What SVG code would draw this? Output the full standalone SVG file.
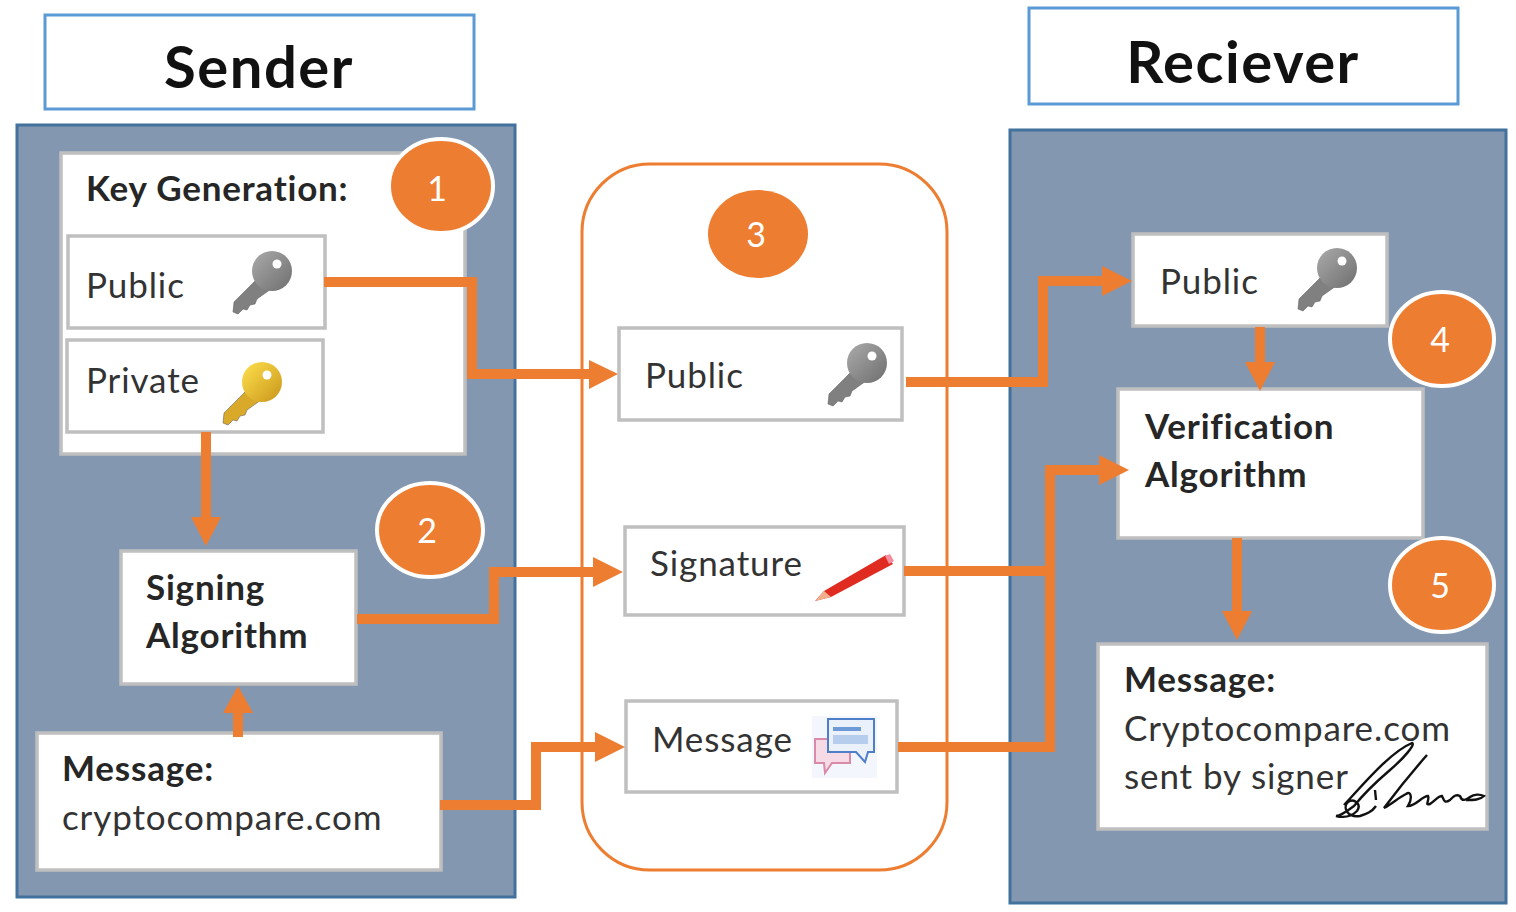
<svg xmlns="http://www.w3.org/2000/svg" width="1516" height="912" viewBox="0 0 1516 912">
<style>
text{font-family:Lato,"Open Sans","Liberation Sans",sans-serif;fill:#262626}
.h{font-size:58px;font-weight:700;fill:#111;text-anchor:middle;letter-spacing:1.5px}
.b{font-size:35px;font-weight:700;letter-spacing:.8px}
.t{font-size:35px;fill:#333;letter-spacing:.9px}
.head{fill:#fff;stroke:#5b9bd5;stroke-width:3}
.panel{fill:#8497b0;stroke:#41719c;stroke-width:3}
.box{fill:#fff;stroke:#bfbfbf;stroke-width:3.5}
.c{fill:#ed7d31;stroke:#fff;stroke-width:4}
.n{font-size:34px;fill:#fff;text-anchor:middle}
.w{fill:none;stroke:#ed7d31;stroke-width:10}
.a{fill:#ed7d31}
</style>
<defs>
<linearGradient id="gk" x1="0" y1="0" x2="1" y2="1"><stop offset="0" stop-color="#ababab"/><stop offset="1" stop-color="#6e6e6e"/></linearGradient>
<linearGradient id="yk" x1="0" y1="0" x2="1" y2="1"><stop offset="0" stop-color="#ffe14d"/><stop offset="1" stop-color="#c9951a"/></linearGradient>
<g id="key">
<path d="M-3 -4L-28 21L-29 31L-24 33L-19 28L-15 29L-12 24L-7 23L-5 18L9 8Z" fill="currentColor" stroke="#555" stroke-width="1" stroke-opacity=".5"/>
<circle cx="10" cy="-10" r="20"/>
<circle cx="15" cy="-17" r="4.5" fill="#fff"/>
</g>
</defs>

<g id="sender-header"><rect class="head" x="45" y="15" width="429" height="94"/><text class="h" x="259" y="88">Sender</text></g>
<g id="receiver-header"><rect class="head" x="1029" y="8" width="429" height="96"/><text class="h" x="1243" y="83">Reciever</text></g>

<g id="sender-panel"><rect class="panel" x="17" y="125" width="498" height="772"/></g>
<g id="receiver-panel"><rect class="panel" x="1010" y="130" width="496" height="773"/></g>
<g id="channel"><rect x="582" y="164" width="365" height="706" rx="68" fill="#fff" stroke="#ed7d31" stroke-width="3"/></g>

<g id="key-generation"><rect class="box" x="61" y="153" width="404" height="301"/><text class="b" x="86" y="201">Key Generation:</text></g>

<g id="public-sender"><rect class="box" x="68" y="236" width="257" height="92"/><text class="t" x="86" y="298">Public</text><use href="#key" x="262" y="281" fill="url(#gk)" color="#808080"/></g>
<g id="private-sender"><rect class="box" x="67" y="340" width="256" height="92"/><text class="t" x="86" y="393">Private</text><use href="#key" x="252" y="392" fill="url(#yk)" color="#d9a92a"/></g>
<g id="signing-algorithm"><rect class="box" x="121" y="551" width="235" height="133"/><text class="b" x="146" y="600">Signing</text><text class="b" x="146" y="648">Algorithm</text></g>
<g id="message-sender"><rect class="box" x="37" y="733" width="404" height="137"/><text class="b" x="62" y="781">Message:</text><text class="t" x="62" y="830">cryptocompare.com</text></g>

<g id="public-channel"><rect class="box" x="619" y="328" width="283" height="92"/><text class="t" x="645" y="388">Public</text><use href="#key" x="857" y="373" fill="url(#gk)" color="#808080"/></g>
<g id="signature-channel"><rect class="box" x="625" y="527" width="279" height="88"/><text class="t" x="650" y="576">Signature</text>
<path d="M815 601L824 591L886 555L893 564L831 597Z" fill="#e02b20"/><path d="M815 601L824 591L831 597Z" fill="#f0b090"/><path d="M885 556L890 554L894 561L889 564Z" fill="#f48fa0"/></g>
<g id="message-channel"><rect class="box" x="626" y="701" width="271" height="91"/><text class="t" x="652" y="752">Message</text>
<rect x="812" y="716" width="65" height="62" fill="#f3f6fc"/>
<path d="M815 739H850V763H832L825 773L824 763H815Z" fill="#f6dbe6" stroke="#d98aa8" stroke-width="2"/>
<path d="M828 719H874V752H868L865 762L856 752H828Z" fill="#eaf1fb" stroke="#4f7ec9" stroke-width="2"/>
<rect x="833" y="727" width="28" height="4" fill="#6f9ad8"/><rect x="833" y="735" width="35" height="9" fill="#b7cdee"/></g>

<g id="public-receiver"><rect class="box" x="1133" y="234" width="254" height="92"/><text class="t" x="1160" y="294">Public</text><use href="#key" x="1327" y="278" fill="url(#gk)" color="#808080"/></g>
<g id="verification-algorithm"><rect class="box" x="1118" y="389" width="305" height="149"/><text class="b" x="1145" y="439">Verification</text><text class="b" x="1145" y="487">Algorithm</text></g>
<g id="message-receiver"><rect class="box" x="1098" y="644" width="389" height="185"/><text class="b" x="1124" y="692">Message:</text><text class="t" x="1124" y="741">Cryptocompare.com</text><text class="t" x="1124" y="789">sent by signer</text>
<path d="M1344 805C1362 786 1390 752 1412 743C1416 744 1404 758 1390 770C1376 782 1362 796 1354 806C1346 812 1340 816 1336 816C1344 818 1352 816 1357 811C1362 804 1354 798 1348 802C1342 808 1348 818 1360 816C1366 814 1372 812 1376 806M1375 790L1376 800M1427 755C1412 772 1396 792 1384 808C1392 804 1398 798 1406 794C1412 790 1412 800 1408 806C1416 806 1422 796 1428 796C1430 800 1424 806 1430 804C1436 800 1438 796 1442 796C1444 800 1444 804 1450 800C1454 796 1456 794 1460 796C1462 802 1466 800 1470 797C1474 794 1480 794 1484 796C1480 800 1474 800 1466 800" fill="none" stroke="#111" stroke-width="2.4"/></g>

<g id="connectors">
<path class="w" d="M324 282H472V374H592"/><path class="a" d="M589 360L618 374L589 389Z"/>
<path class="w" d="M906 382H1043V281H1105"/><path class="a" d="M1102 266L1132 281L1102 296Z"/>
<path class="w" d="M206 432V520"/><path class="a" d="M191 517L221 517L206 546Z"/>
<path class="w" d="M357 619H494V572H596"/><path class="a" d="M593 557L623 572L593 587Z"/>
<path class="w" d="M238 737V712"/><path class="a" d="M223 713L253 713L238 686Z"/>
<path class="w" d="M440 805H536V747H598"/><path class="a" d="M595 732L625 747L595 762Z"/>
<path class="w" d="M904 571H1050"/>
<path class="w" d="M898 747H1050V470H1102"/><path class="a" d="M1099 455L1129 470L1099 485Z"/>
<path class="w" d="M1260 327V365"/><path class="a" d="M1245 362L1275 362L1260 391Z"/>
<path class="w" d="M1237 538V614"/><path class="a" d="M1222 611L1252 611L1237 640Z"/>
</g>

<g id="step-1"><ellipse class="c" cx="441" cy="186" rx="52" ry="47"/><text class="n" x="437" y="201">1</text></g>
<g id="step-2"><ellipse class="c" cx="430" cy="530" rx="53" ry="47"/><text class="n" x="427" y="543">2</text></g>
<g id="step-3"><ellipse cx="758" cy="234" rx="50" ry="44" fill="#ed7d31"/><text class="n" x="756" y="247">3</text></g>
<g id="step-4"><ellipse class="c" cx="1442" cy="339" rx="52" ry="47"/><text class="n" x="1440" y="352">4</text></g>
<g id="step-5"><ellipse class="c" cx="1442" cy="585" rx="52" ry="47"/><text class="n" x="1440" y="598">5</text></g>
</svg>
